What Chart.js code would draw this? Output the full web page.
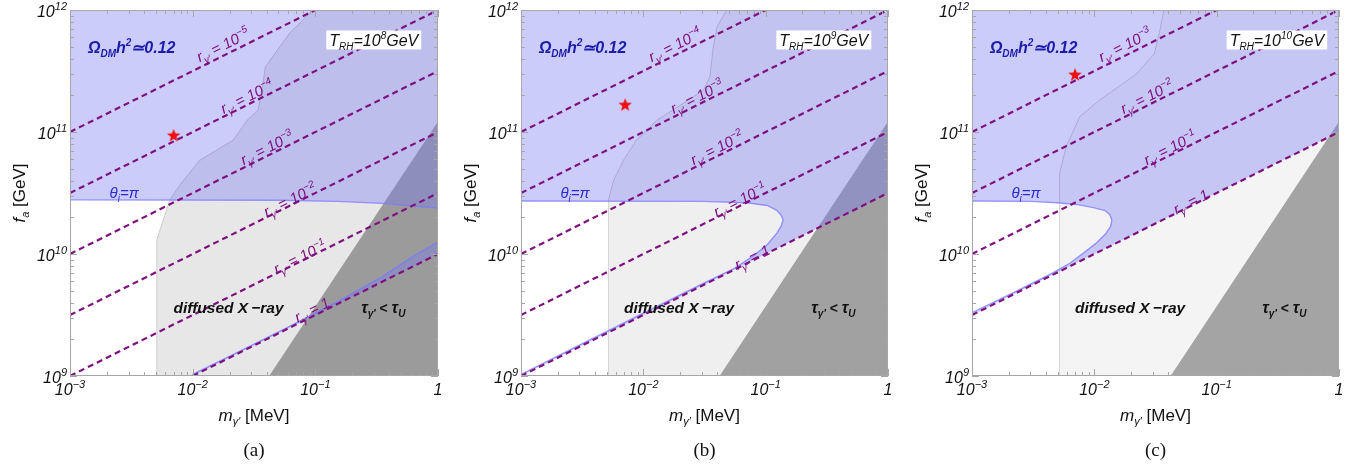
<!DOCTYPE html>
<html lang="en">
<head>
<meta charset="UTF-8">
<title>f_a vs m_gamma' for three reheating temperatures</title>
<script src="https://cdn.jsdelivr.net/npm/chart.js"></script>
<style>
  body { margin: 0; background: #fff; width: 1364px; height: 466px; overflow: hidden; position: relative; }
  canvas { position: absolute; top: 0; }
</style>
</head>
<body>
<canvas id="chartA" width="451" height="466" style="left:0px"></canvas>
<canvas id="chartB" width="451" height="466" style="left:451px"></canvas>
<canvas id="chartC" width="462" height="466" style="left:902px"></canvas>
<script>
// axes (log10 exponents of the labelled decades)
const xTickExp = [-3, -2, -1, 0]
const yTickExp = [9, 10, 11, 12]

// tau_gamma' < tau_U edge (same in all panels)
const tauEdge = [[0.042, 1e9], [1, 1.22e11]]

// ---- panel (a), T_RH = 1e8 GeV
const trhExpA = 8
const rExpA = [-5, -4, -3, -2, -1, 0]
const rFromA = [[1e-3, 1e11], [1e-3, 3.16e10], [1e-3, 1e10], [1e-3, 3.16e9], [1e-3, 1e9], [1e-2, 1e9]]
const rToA = [[0.1, 1e12], [1, 1e12], [1, 3.16e11], [1, 1e11], [1, 3.16e10], [1, 1e10]]
const rTagA = [[0.0177, 5.15e11], [0.0278, 1.94e11], [0.0405, 7.4e10], [0.0622, 2.77e10], [0.0752, 9.4e9], [0.0942, 3.48e9]]
const thetaA = [[1e-3, 2.78e10], [0.05, 2.76e10], [0.15, 2.7e10], [0.35, 2.6e10], [0.6, 2.48e10], [1, 2.38e10]]
const bandA = [[1, 1.26e10], [0.6, 9.3e9], [0.35, 6.5e9], [0.15, 4.05e9], [0.06, 2.52e9], [0.025, 1.62e9], [0.01, 1.03e9]]
const xrayA = [[5.1e-3, 1e9], [5.1e-3, 1.3e10], [5.4e-3, 1.57e10], [6.5e-3, 2.77e10], [8.2e-3, 3.9e10], [0.0115, 5.9e10],
  [0.0215, 8.6e10], [0.028, 1.26e11], [0.034, 1.5e11], [0.037, 2.3e11], [0.039, 3.4e11], [0.049, 4.7e11], [0.062, 6.5e11],
  [0.096, 1e12]]
const starA = [7e-3, 9.3e10]

// ---- panel (b), T_RH = 1e9 GeV
const trhExpB = 9
const rExpB = [-4, -3, -2, -1, 0]
const rFromB = [[1e-3, 1e11], [1e-3, 3.16e10], [1e-3, 1e10], [1e-3, 3.16e9], [1e-3, 1e9]]
const rToB = [[0.1, 1e12], [1, 1e12], [1, 3.16e11], [1, 1e11], [1, 3.16e10]]
const rTagB = [[0.0182, 5.15e11], [0.0275, 1.94e11], [0.0401, 7.4e10], [0.0617, 2.77e10], [0.0776, 9.4e9]]
const thetaB = [[1e-3, 1.03e9], [0.003, 1.79e9], [0.01, 3.27e9], [0.03, 5.65e9], [0.054, 7.5e9], [0.08, 9.7e9],
  [0.103, 1.19e10], [0.124, 1.49e10], [0.134, 1.7e10], [0.139, 1.9e10], [0.134, 2.08e10], [0.123, 2.28e10],
  [0.103, 2.5e10], [0.07, 2.63e10], [0.03, 2.7e10], [1e-3, 2.72e10]]
const xrayB = [[5.2e-3, 1e9], [5.2e-3, 2.8e10], [5.7e-3, 4e10], [6.9e-3, 5.9e10], [8.8e-3, 8.6e10], [0.0129, 1.25e11],
  [0.0213, 1.72e11], [0.031, 2.2e11], [0.035, 2.84e11], [0.037, 4.7e11], [0.04, 7.3e11], [0.048, 1e12]]
const starB = [7.1e-3, 1.66e11]

// ---- panel (c), T_RH = 1e10 GeV
const trhExpC = 10
const rExpC = [-3, -2, -1, 0]
const rFromC = [[1e-3, 1e11], [1e-3, 3.16e10], [1e-3, 1e10], [1e-3, 3.16e9]]
const rToC = [[0.1, 1e12], [1, 1e12], [1, 3.16e11], [1, 1e11]]
const rTagC = [[0.0178, 5.15e11], [0.027, 1.94e11], [0.0417, 7.4e10], [0.0617, 2.67e10]]
const thetaC = [[1e-3, 3.3e9], [0.002, 4.62e9], [0.003, 5.65e9], [0.0045, 6.95e9], [0.0063, 8.4e9], [0.0085, 1.05e10],
  [0.0105, 1.24e10], [0.0125, 1.48e10], [0.0136, 1.68e10], [0.0139, 1.9e10], [0.0134, 2.1e10], [0.0122, 2.27e10],
  [0.0098, 2.4e10], [0.0075, 2.53e10], [0.005, 2.63e10], [0.003, 2.7e10], [1e-3, 2.72e10]]
const xrayC = [[5.2e-3, 1e9], [5.2e-3, 4.6e10], [5.9e-3, 7.6e10], [7.6e-3, 1.34e11], [0.0111, 1.83e11], [0.0222, 3.0e11],
  [0.031, 4.4e11], [0.034, 6.5e11], [0.037, 1e12]]
const starC = [6.95e-3, 2.93e11]

// text anchors (data coords)
const omegaAt = [1.4e-3, 4.98e11]
const thetaTagAt = [2.1e-3, 3.16e10]
const xrayTagAt = [0.0196, 3.28e9]
const tauTagAt = [0.358, 3.28e9]
const trhRight = { a: [0.73, 5.68e11], b: [0.73, 5.68e11], c: [0.8, 5.68e11] }

const FONT = '"Liberation Sans", Arial, Helvetica, sans-serif'
const PURPLE = '#7f1080'
const pts = arr => arr.map(([x, y]) => ({ x, y }))

function font(size, style) { return `${style || ''} ${size}px ${FONT}` }

function richWidth(ctx, parts) {
  let w = 0
  for (const [t, s, st] of parts) { ctx.font = font(s, st); w += ctx.measureText(t).width }
  return w
}

function drawRich(ctx, parts, x, y, align) {
  const w = richWidth(ctx, parts)
  let cx = align === 'center' ? x - w / 2 : align === 'right' ? x - w : x
  ctx.textAlign = 'left'
  ctx.textBaseline = 'alphabetic'
  for (const [t, s, st, dy] of parts) {
    ctx.font = font(s, st)
    ctx.fillText(t, cx, y + (dy || 0))
    cx += ctx.measureText(t).width
  }
  return w
}

function powParts(e, big, small, rise) {
  if (e === 0) return [['1', big, 'italic']]
  const s = e < 0 ? '\u2212' + (-e) : String(e)
  return [['10', big, 'italic'], [s, small, 'italic', -rise]]
}

function rParts(e) {
  const head = [['r', 15, 'italic'], ['\u03b3\u2032', 10, 'italic', 4]]
  if (e === 0) return head.concat([[' = 1', 15, 'italic']])
  return head.concat([[' = 10', 15, 'italic'], ['\u2212' + (-e), 10, 'italic', -6.5]])
}

function makeStar(r, color) {
  const c = document.createElement('canvas')
  c.width = c.height = 2 * r + 2
  const g = c.getContext('2d')
  g.fillStyle = color
  g.beginPath()
  for (let i = 0; i < 10; i++) {
    const rr = i % 2 ? r * 0.42 : r
    const a = -Math.PI / 2 + i * Math.PI / 5
    g.lineTo(r + 1 + rr * Math.cos(a), r + 1 + rr * Math.sin(a))
  }
  g.closePath()
  g.fill()
  return c
}
const starImg = makeStar(7, '#ee1111')

function panelPlugin(p) {
  return {
    id: 'panel' + p.tag,
    afterDatasetsDraw(chart) {
      const { ctx, chartArea: a, scales: { x, y } } = chart
      ctx.save()
      // inward tick marks and frame
      ctx.strokeStyle = '#a6a6a6'
      ctx.lineWidth = 1
      ctx.beginPath()
      for (let e = xTickExp[0]; e <= xTickExp[xTickExp.length - 1]; e++) {
        for (let k = 1; k <= 9; k++) {
          const v = k * 10 ** e
          if (v > 1.0001) break
          const px = Math.round(x.getPixelForValue(v)) + 0.5
          const len = k === 1 ? 7 : 4
          ctx.moveTo(px, a.bottom); ctx.lineTo(px, a.bottom - len)
          ctx.moveTo(px, a.top); ctx.lineTo(px, a.top + len)
        }
      }
      for (let e = yTickExp[0]; e <= yTickExp[yTickExp.length - 1]; e++) {
        for (let k = 1; k <= 9; k++) {
          const v = k * 10 ** e
          if (v > 1.0001e12) break
          const py = Math.round(y.getPixelForValue(v)) + 0.5
          const len = k === 1 ? 7 : 4
          ctx.moveTo(a.left, py); ctx.lineTo(a.left + len, py)
          ctx.moveTo(a.right, py); ctx.lineTo(a.right - len, py)
        }
      }
      ctx.stroke()
      ctx.strokeRect(a.left + 0.5, a.top + 0.5, a.right - a.left - 1, a.bottom - a.top - 1)

      // r_gamma' labels along the dashed lines
      ctx.fillStyle = PURPLE
      p.rExp.forEach((e, i) => {
        const x0 = x.getPixelForValue(p.rFrom[i][0]), y0 = y.getPixelForValue(p.rFrom[i][1])
        const x1 = x.getPixelForValue(p.rTo[i][0]), y1 = y.getPixelForValue(p.rTo[i][1])
        const ang = Math.atan2(y1 - y0, x1 - x0)
        ctx.save()
        ctx.translate(x.getPixelForValue(p.rTag[i][0]), y.getPixelForValue(p.rTag[i][1]))
        ctx.rotate(ang)
        drawRich(ctx, rParts(e), 0, 5, 'center')
        ctx.restore()
      })

      // Omega label
      ctx.fillStyle = '#1c1caa'
      drawRich(ctx, [['\u03a9', 16, 'italic bold'], ['DM', 10, 'italic bold', 4], ['h', 16, 'italic bold'],
        ['2', 10, 'italic bold', -7], ['\u22430.12', 16, 'italic bold']],
        x.getPixelForValue(omegaAt[0]), y.getPixelForValue(omegaAt[1]) + 6, 'left')

      // theta_i = pi
      ctx.fillStyle = '#2a2ad0'
      drawRich(ctx, [['\u03b8', 15, 'italic'], ['i', 10, 'italic', 3.5], ['=\u03c0', 15, 'italic']],
        x.getPixelForValue(thetaTagAt[0]), y.getPixelForValue(thetaTagAt[1]) + 5, 'left')

      // T_RH box
      const trhParts = [['T', 16, 'italic'], ['RH', 10, 'italic', 4], ['=10', 16, 'italic'],
        [String(p.trh), 10, 'italic', -7], ['GeV', 16, 'italic']]
      const tw = richWidth(ctx, trhParts)
      const bx = x.getPixelForValue(p.trhAt[0]), by = y.getPixelForValue(p.trhAt[1])
      ctx.fillStyle = '#ffffff'
      ctx.fillRect(bx - tw - 6, by - 9.5, tw + 6, 19)
      ctx.fillStyle = '#111'
      drawRich(ctx, trhParts, bx - tw - 3, by + 6, 'left')

      // region names
      ctx.fillStyle = '#111'
      drawRich(ctx, [['diffused X\u2009\u2212ray', 15.5, 'italic bold']],
        x.getPixelForValue(xrayTagAt[0]), y.getPixelForValue(xrayTagAt[1]), 'center')
      drawRich(ctx, [['\u03c4', 16, 'italic bold'], ['\u03b3\u2032', 10, 'italic bold', 3.5], [' < ', 14, 'bold'],
        ['\u03c4', 16, 'italic bold'], ['U', 10, 'italic bold', 3.5]],
        x.getPixelForValue(tauTagAt[0]), y.getPixelForValue(tauTagAt[1]), 'center')
      ctx.restore()
    },
    afterDraw(chart) {
      const { ctx, chartArea: a, scales: { x, y } } = chart
      ctx.save()
      ctx.fillStyle = '#111'
      for (const e of yTickExp) {
        drawRich(ctx, powParts(e, 16, 11, 7), a.left - 3, y.getPixelForValue(10 ** e) + 7, 'right')
      }
      for (const e of xTickExp) {
        drawRich(ctx, powParts(e, 16, 11, 7), x.getPixelForValue(10 ** e), a.bottom + 19, 'center')
      }
      // axis titles
      drawRich(ctx, [['m', 17, 'italic'], ['\u03b3\u2032', 11, 'italic', 4], [' [MeV]', 17, '']],
        (a.left + a.right) / 2, a.bottom + 45, 'center')
      ctx.save()
      ctx.translate(a.left - 45, (a.top + a.bottom) / 2)
      ctx.rotate(-Math.PI / 2)
      drawRich(ctx, [['f', 17, 'italic'], ['a', 11, 'italic', 4], [' [GeV]', 17, '']], 0, 0, 'center')
      ctx.restore()
      // caption
      ctx.font = '19px "Liberation Serif", "Times New Roman", serif'
      ctx.textAlign = 'center'
      ctx.textBaseline = 'alphabetic'
      ctx.fillText('(' + p.tag + ')', (a.left + a.right) / 2, a.bottom + 80)
      ctx.restore()
    }
  }
}

function buildPanel(id, p) {
  const datasets = []
  // star (top)
  datasets.push({ data: pts([p.star]), showLine: false, pointStyle: starImg, pointRadius: 8 })
  // dashed r lines
  p.rExp.forEach((e, i) => {
    datasets.push({ data: pts([p.rFrom[i], p.rTo[i]]), borderColor: PURPLE, borderWidth: 2.2, borderDash: [6, 4] })
  })
  // blue boundaries
  for (const edge of p.blueEdges) {
    datasets.push({ data: pts(edge), borderColor: 'rgba(120,120,255,0.75)', borderWidth: 1.4 })
  }
  // x-ray boundary
  datasets.push({ data: pts(p.xray), borderColor: 'rgba(0,0,0,0.2)', borderWidth: 0.8 })
  // blue regions
  for (const poly of p.bluePolys) {
    datasets.push({ data: pts(poly), borderWidth: 0, fill: 'shape', backgroundColor: 'rgba(120,120,245,0.38)' })
  }
  // x-ray region
  datasets.push({ data: pts(p.xray.concat([[1, 1e12], [1, 1e9]])), borderWidth: 0, fill: 'shape',
    backgroundColor: `rgba(0,0,0,${p.xrayAlpha})` })
  // tau region
  datasets.push({ data: pts(tauEdge.concat([[1, 1e9]])), borderWidth: 0, fill: 'shape', backgroundColor: 'rgba(0,0,0,0.33)' })

  return new Chart(document.getElementById(id), {
    type: 'line',
    data: { datasets },
    options: {
      responsive: false,
      animation: false,
      events: [],
      layout: { padding: { left: 70, right: p.padRight, top: 10, bottom: 90 } },
      elements: { point: { radius: 0 }, line: { tension: 0 } },
      scales: {
        x: { type: 'logarithmic', min: 1e-3, max: 1, display: false },
        y: { type: 'logarithmic', min: 1e9, max: 1e12, display: false }
      },
      plugins: { legend: { display: false }, tooltip: { enabled: false } }
    },
    plugins: [panelPlugin(p)]
  })
}

document.addEventListener('DOMContentLoaded', () => {
  buildPanel('chartA', {
    tag: 'a', trh: trhExpA, trhAt: trhRight.a, padRight: 13, xrayAlpha: 0.095,
    rExp: rExpA, rFrom: rFromA, rTo: rToA, rTag: rTagA, star: starA, xray: xrayA,
    blueEdges: [thetaA, bandA],
    bluePolys: [[[1e-3, 1e12], [1, 1e12]].concat(thetaA.slice().reverse()),
      [rFromA[5], rToA[5]].concat(bandA)]
  })
  buildPanel('chartB', {
    tag: 'b', trh: trhExpB, trhAt: trhRight.b, padRight: 14, xrayAlpha: 0.063,
    rExp: rExpB, rFrom: rFromB, rTo: rToB, rTag: rTagB, star: starB, xray: xrayB,
    blueEdges: [thetaB],
    bluePolys: [[[1e-3, 1e12], [1, 1e12], rToB[4], rFromB[4]].concat(thetaB)]
  })
  buildPanel('chartC', {
    tag: 'c', trh: trhExpC, trhAt: trhRight.c, padRight: 25, xrayAlpha: 0.045,
    rExp: rExpC, rFrom: rFromC, rTo: rToC, rTag: rTagC, star: starC, xray: xrayC,
    blueEdges: [thetaC],
    bluePolys: [[[1e-3, 1e12], [1, 1e12], rToC[3], rFromC[3]].concat(thetaC)]
  })
})
</script>
</body>
</html>
